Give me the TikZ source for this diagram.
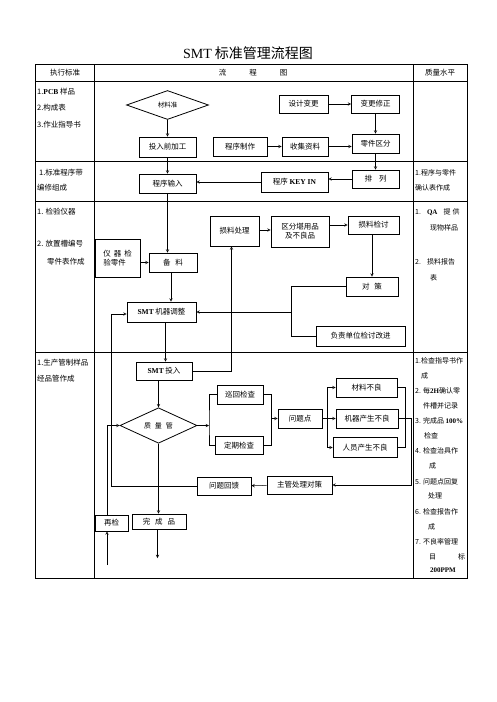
\documentclass[tikz,border=0pt]{standalone}
\usepackage{fontspec}
\setmainfont{Noto Sans CJK SC}
\newfontfamily\latin{Liberation Serif}
\usepackage{tikz}
\usetikzlibrary{arrows}
\usetikzlibrary{calc}
\usetikzlibrary{positioning}
\usetikzlibrary{shapes.geometric}

\begin{document}
\begin{tikzpicture}[x=1pt, y=-1pt, >=stealth,
    box/.style={draw, line width=0.8pt, inner sep=0pt, font=\fontsize{7.5}{9}\selectfont},
    choice/.style={draw, diamond, line width=0.8pt, inner sep=0pt, font=\fontsize{6.5}{8}\selectfont},
    flow/.style={->, line width=0.5pt},
    link/.style={line width=0.5pt},
    txt/.style={anchor=west, inner sep=0pt, font=\fontsize{7.5}{9}\selectfont},
    rtxt/.style={anchor=west, inner sep=0pt, font=\fontsize{7}{9}\selectfont}]

    \useasboundingbox (0,0) rectangle (496,702);

    \begin{scope}
      \node[font=\fontsize{14}{16}\selectfont] (title) at (248,53) {{\latin SMT} 标准管理流程图};

      \draw[line width=0.8pt] (35,64) rectangle (467,578)
      (94,64) -- (94,578) (413,64) -- (413,578)
      (35,81) -- (467,81) (35,161) -- (467,161)
      (35,201) -- (467,201) (35,352) -- (467,352);

      \node[txt, anchor=center] (h1) at (65,73) {执行标准};
      \node[txt, anchor=center] (h2) at (253,73) {流\hspace{23pt}程\hspace{23pt}图};
      \node[txt, anchor=center] (h3) at (440,73) {质量水平};

      \node[txt] (a1) at (37,92) {1.{\latin\bfseries PCB} 样品};
      \node[txt] (a2) at (37,108) {2.构成表};
      \node[txt] (a3) at (37,125) {3.作业指导书};
      \node[txt] (b1) at (39,173) {1.标准程序带};
      \node[txt] (b2) at (37,188) {编修组成};
      \node[txt] (c1) at (37,212) {1. 检验仪器};
      \node[txt] (c2) at (37,244) {2. 放置槽编号};
      \node[txt] (c3) at (47,262) {零件表作成};
      \node[txt] (d1) at (37,363) {1.生产管制样品};
      \node[txt] (d2) at (37,379) {经品管作成};

      \node[rtxt] (qb1) at (415,173) {1.程序与零件};
      \node[rtxt] (qb2) at (415,188) {确认表作成};
      \node[rtxt] (qc1) at (415,212) {1.\hspace{6pt}{\latin\bfseries QA}\hspace{6pt}提\hspace{2pt}供};
      \node[rtxt] (qc2) at (430,228) {现物样品};
      \node[rtxt] (qc3) at (415,262) {2.\hspace{6pt}损料报告};
      \node[rtxt] (qc4) at (430,278) {表};
      \node[rtxt] (qd1) at (415,361) {1.检查指导书作};
      \node[rtxt] (qd2) at (421,376) {成};
      \node[rtxt] (qd3) at (415,391) {2. 每{\latin\bfseries 2H}确认零};
      \node[rtxt] (qd4) at (423,406) {件槽并记录};
      \node[rtxt] (qd5) at (415,421) {3. 完成品 {\latin\bfseries 100\%}};
      \node[rtxt] (qd6) at (424,436) {检查};
      \node[rtxt] (qd7) at (415,451) {4. 检查治具作};
      \node[rtxt] (qd8) at (429,466) {成};
      \node[rtxt] (qd9) at (415,482) {5. 问题点回复};
      \node[rtxt] (qd10) at (428,496) {处理};
      \node[rtxt] (qd11) at (415,512) {6. 检查报告作};
      \node[rtxt] (qd12) at (428,527) {成};
      \node[rtxt] (qd13) at (415,542) {7. 不良率管理};
      \node[rtxt] (qd14) at (429,557) {目\hspace{22pt}标};
      \node[rtxt, anchor=center] (qd15) at (443,570) {\latin\bfseries 200PPM};
    \end{scope}

    \begin{scope}
      \node[choice, minimum width=82, minimum height=29] (cai) at (167.5,105) {材料准};
      \node[box, minimum width=49, minimum height=18] (sjbg) at (303.5,104) {设计变更};
      \node[box, minimum width=48, minimum height=18] (bgxz) at (375.5,104) {变更修正};
      \node[box, minimum width=47, minimum height=19] (ljqf) at (375.5,143.5) {零件区分};
      \node[box, minimum width=57, minimum height=20] (trqjg) at (167.5,147) {投入前加工};
      \node[box, minimum width=54, minimum height=19] (cxzz) at (240,146.5) {程序制作};
      \node[box, minimum width=46, minimum height=19] (sjzl) at (305,146.5) {收集资料};
      \node[box, minimum width=47, minimum height=18] (pl) at (375.5,179) {排\hspace{7pt}列};
      \node[box, minimum width=67, minimum height=20] (keyin) at (294.5,182) {程序 {\latin\bfseries KEY IN}};
      \node[box, minimum width=57, minimum height=19] (cxsr) at (167.5,183.5) {程序输入};

      \draw[flow] (cai) -- (trqjg);
      \draw[flow] (trqjg) -- (cxsr);
      \draw[flow] (sjbg) -- (bgxz);
      \draw[flow] (bgxz) -- (ljqf);
      \draw[flow] (cxzz) -- (sjzl);
      \draw[flow] (sjzl.east) -- (sjzl.east -| ljqf.west);
      \draw[flow] (ljqf) -- (pl);
      \draw[flow] (pl.west) -- (pl.west -| keyin.east);
      \draw[flow] (keyin.west) -- (keyin.west -| cxsr.east);
    \end{scope}

    \begin{scope}
      \node[box, minimum width=45, minimum height=38, align=left] (yqjy) at (117.5,258) {仪\hspace{3pt}器\hspace{3pt}检\\验零件};
      \node[box, minimum width=48, minimum height=19] (bl) at (173,262.5) {备\hspace{5pt}料};
      \node[box, minimum width=49, minimum height=30] (slcl) at (234.5,231) {损料处理};
      \node[box, minimum width=58, minimum height=31, align=center] (qf) at (300,231.5) {区分堪用品\\及不良品};
      \node[box, minimum width=51, minimum height=18] (sljt) at (373.5,225) {损料检讨};
      \node[box, minimum width=52, minimum height=19] (dc) at (372,286.5) {对\hspace{5pt}策};
      \node[box, minimum width=89, minimum height=20] (fz) at (360.5,336) {负责单位检讨改进};
      \node[box, minimum width=69, minimum height=20] (smttz) at (161.5,312) {{\latin\bfseries SMT} 机器调整};
      \coordinate (jn) at (291.5,312);

      \draw[flow] (cxsr.south) -- (cxsr.south |- bl.north);
      \draw[flow] (yqjy.east |- bl.west) -- (bl.west);
      \draw[flow] ([xshift=-2pt]bl.south) -- ([xshift=-2pt]bl.south |- smttz.north);
      \draw[flow] (slcl.east |- 0,230) -- (qf.west |- 0,230);
      \draw[flow] (qf.east |- sljt.west) -- (sljt.west);
      \draw[flow] ([xshift=-1.5pt]sljt.south) -- ([xshift=-1.5pt]sljt.south |- dc.north);
      \draw[link] (dc.west) -| (jn) |- (fz.west);
      \draw[flow] (jn) -- (smttz.east);
    \end{scope}

    \begin{scope}
      \node[box, minimum width=56, minimum height=18] (smttr) at (164,371) {{\latin\bfseries SMT} 投入};
      \node[choice, minimum width=77, minimum height=31, font=\fontsize{7}{8}\selectfont] (zlg) at (158.5,425.5) {质\hspace{4pt}量\hspace{4pt}管};
      \node[box, minimum width=46, minimum height=19] (xh) at (240,394.5) {巡回检查};
      \node[box, minimum width=48, minimum height=18] (dq) at (239,445.5) {定期检查};
      \node[box, minimum width=44, minimum height=19] (wtd) at (300,418.5) {问题点};
      \node[box, minimum width=61, minimum height=19] (clbl) at (366.5,387.5) {材料不良};
      \node[box, minimum width=62, minimum height=19] (jqbl) at (367,418.5) {机器产生不良};
      \node[box, minimum width=64, minimum height=20] (rybl) at (365,447.5) {人员产生不良};
      \node[box, minimum width=65, minimum height=18] (zg) at (299.5,485) {主管处理对策};
      \node[box, minimum width=54, minimum height=18] (wthk) at (224,486) {问题回馈};
      \node[box, minimum width=33, minimum height=16] (zj) at (111.5,523) {再检};
      \node[box, minimum width=54, minimum height=15] (wcp) at (159,521.5) {完\hspace{5pt}成\hspace{5pt}品};

      \coordinate (lp) at (111.5,314);
      \coordinate (br1) at (209,425.5);
      \coordinate (br2) at (271.5,418.5);
      \coordinate (br3) at (327,418.5);
      \coordinate (br4) at (405.5,418.5);
      \coordinate (br5) at (411,418.5);
      \coordinate (zjin) at (107,565);
      \coordinate (wcpout) at (157.5,558);

      \draw[flow] ([xshift=4pt]smttz.south) -- ([xshift=4pt]smttz.south |- smttr.north);
      \draw[flow] (smttr.east) -| ([xshift=-3pt]slcl.south);
      \draw[flow] (wthk.west) -| (lp) -- (lp -| smttz.west);
      \draw[flow] (zlg.north |- smttr.south) -- (zlg.north);
      \draw[flow] (zjin) -- (zjin |- zj.south);
      \draw[flow] (zjin |- zj.north) |- (zlg.west);
      \draw[flow] (zlg.south) -- (zlg.south |- wcp.north);
      \draw[flow] (wcpout |- wcp.south) -- (wcpout);
      \draw[flow] (zlg.east) -- (br1);
      \draw[link] (xh.west) -| (br1) |- (dq.west);
      \draw[link] (xh.east) -| (br2) |- (dq.east);
      \draw[flow] (br2) -- (wtd.west);
      \draw[flow] (wtd.east) -- (jqbl.west);
      \draw[flow] (br3 |- clbl.west) -- (clbl.west);
      \draw[flow] (br3 |- rybl.west) -- (rybl.west);
      \draw[link] (br3 |- clbl.west) -- (br3 |- rybl.west);
      \draw[link] (clbl.east) -| (br4) |- (rybl.east);
      \draw[flow] (jqbl.east) -- (br5) |- (zg.east);
      \draw[flow] (zg) -- (wthk);
    \end{scope}

  \end{tikzpicture}
\end{document}
